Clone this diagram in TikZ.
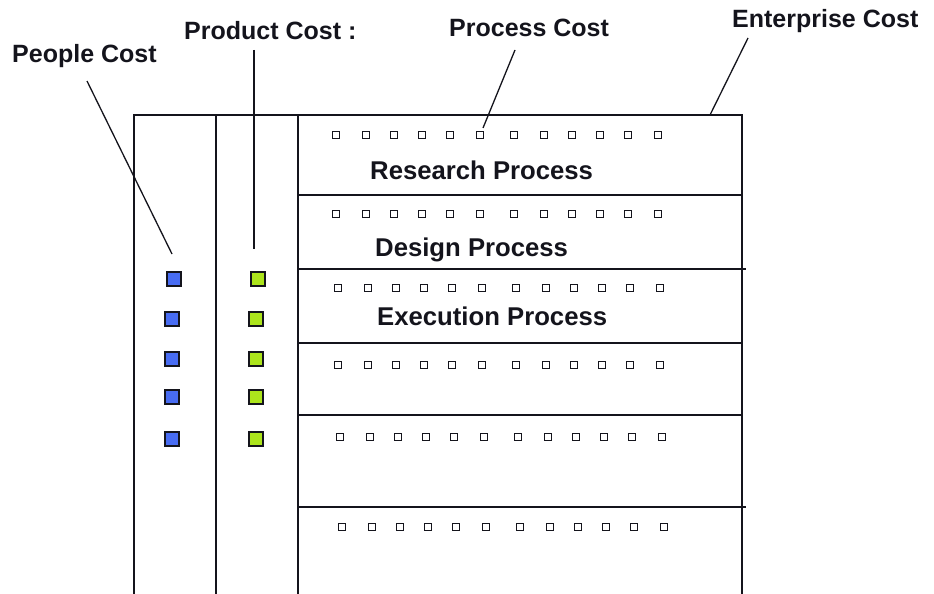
\documentclass[tikz,border=0pt]{standalone}
\usepackage{fontspec}
\setmainfont{Liberation Sans}
\definecolor{pblue}{RGB}{72,108,242}
\definecolor{pgreen}{RGB}{172,228,28}
\definecolor{ink}{RGB}{20,20,28}
\begin{document}
\begin{tikzpicture}[x=1pt,y=-1pt,
  frame/.style={draw=ink,line width=1.8pt},
  leader/.style={draw=ink,line width=1.3pt},
  lbl/.style={anchor=base west,inner sep=0pt,font=\fontsize{25}{30}\selectfont\bfseries,text=ink},
  rowlbl/.style={lbl,font=\fontsize{25.7}{30}\selectfont\bfseries},
  tiny/.style={draw=ink,fill=white,line width=1.6pt,minimum size=7pt,inner sep=0pt},
  peoplebox/.style={draw=ink,fill=pblue,line width=1.7pt,minimum size=14.5pt,inner sep=0pt},
  prodbox/.style={draw=ink,fill=pgreen,line width=1.7pt,minimum size=14.5pt,inner sep=0pt}]
\useasboundingbox (0,0) rectangle (934,594);
% frame
\draw[frame] (134,594) -- (134,115) -- (742,115) -- (742,594);
\draw[frame] (216,115) -- (216,594);
\draw[frame] (298,115) -- (298,594);
\draw[frame] (298,195) -- (742,195);
\draw[frame] (298,269) -- (746,269);
\draw[frame] (298,343) -- (742,343);
\draw[frame] (298,415) -- (742,415);
\draw[frame] (298,507) -- (746,507);
% process squares
\foreach \r/\y/\xs in {1/135/336,2/214/336,3/288/338,4/365/338,5/437/340,6/527/342}{
  \foreach \c/\o in {1/0,2/30,3/58,4/86,5/114,6/144,7/178,8/208,9/236,10/264,11/292,12/322}{
    \node[tiny] (sq-\r-\c) at (\xs+\o,\y) {};
  }
}
% people and product squares
\foreach \i/\y/\bx/\gx in {1/279/174/258,2/319/172/256,3/359/172/256,4/397/172/256,5/439/172/256}{
  \node[peoplebox] (pe-\i) at (\bx,\y) {};
  \node[prodbox] (pr-\i) at (\gx,\y) {};
}
% labels
\node[lbl] (lpeople) at (12,63) {People Cost};
\node[lbl] (lproduct) at (184,40) {Product Cost :};
\node[lbl] (lprocess) at (449,37) {Process Cost};
\node[lbl] (lenter) at (732,28) {Enterprise Cost};
\node[rowlbl] (tres) at (370,179) {Research Process};
\node[rowlbl] (tdes) at (375,256) {Design Process};
\node[rowlbl] (texe) at (377,325) {Execution Process};
% leader lines
\coordinate (a1) at (87,81);
\coordinate (b1) at (172,254);
\coordinate (a2) at (254,50);
\coordinate (b2) at (254,249);
\coordinate (a3) at (515,50);
\coordinate (b3) at (483,128);
\coordinate (a4) at (748,38);
\coordinate (b4) at (710,115);
\draw[leader] (a1) -- (b1);
\draw[leader] (a2) -- (b2);
\draw[leader] (a3) -- (b3);
\draw[leader] (a4) -- (b4);
\end{tikzpicture}
\end{document}
